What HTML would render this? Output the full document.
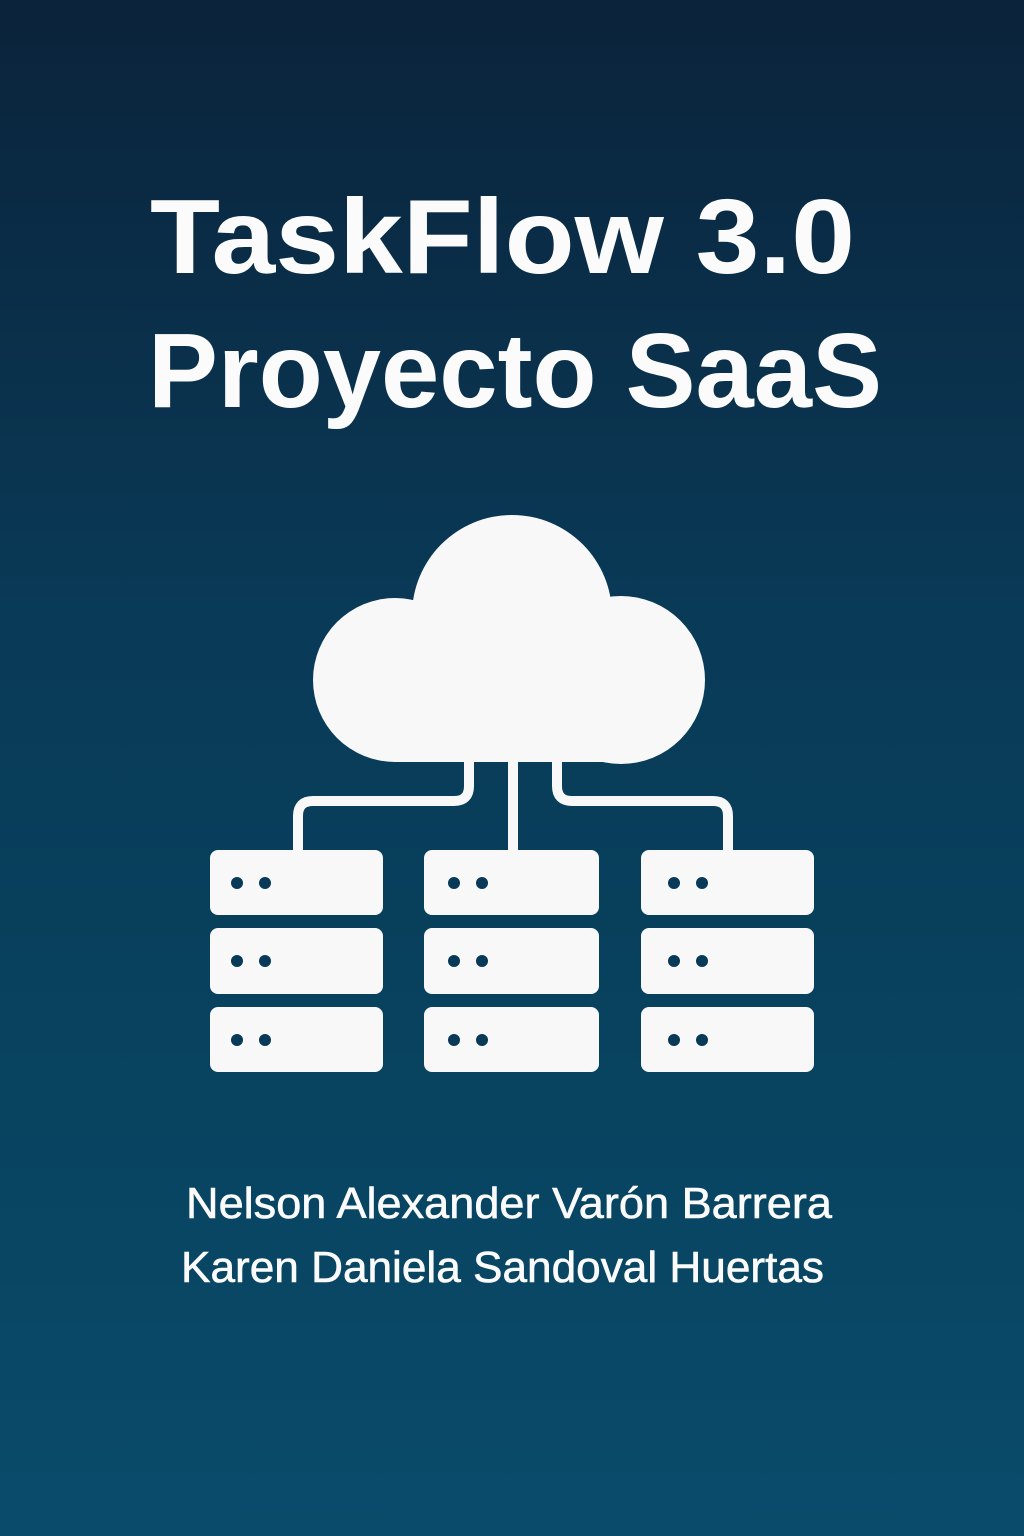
<!DOCTYPE html>
<html><head><meta charset="utf-8"><style>
html,body{margin:0;padding:0}
body{width:1024px;height:1536px;overflow:hidden;background:linear-gradient(180deg,#0b233b 0%,#093a57 40%,#08435f 70%,#0a4b6b 100%)}
svg{display:block}
</style></head><body>
<svg width="1024" height="1536" viewBox="0 0 1024 1536" xmlns="http://www.w3.org/2000/svg">
<g font-family="Liberation Sans, sans-serif" fill="#fbfbfb">
<text x="150" y="273" font-size="106" font-weight="bold" textLength="705" lengthAdjust="spacingAndGlyphs">TaskFlow 3.0</text>
<text x="148" y="407" font-size="106" font-weight="bold" textLength="734" lengthAdjust="spacingAndGlyphs">Proyecto SaaS</text>
<text x="186" y="1218" font-size="44" stroke="#fbfbfb" stroke-width="0.6" textLength="646" lengthAdjust="spacingAndGlyphs">Nelson Alexander Varón Barrera</text>
<text x="181" y="1282" font-size="44" stroke="#fbfbfb" stroke-width="0.6" textLength="643" lengthAdjust="spacingAndGlyphs">Karen Daniela Sandoval Huertas</text>
</g>
<g fill="#f8f8f8">
<circle cx="512" cy="615" r="100"/>
<circle cx="395" cy="680" r="82"/>
<circle cx="621" cy="680" r="84"/>
<rect x="395" y="600" width="226" height="162"/>
</g>
<g fill="none" stroke="#f8f8f8" stroke-width="10">
<path d="M469 760 V786 Q469 801 454 801 H313 Q298 801 298 816 V852"/>
<path d="M513 760 V852"/>
<path d="M557 760 V786 Q557 801 572 801 H713 Q728 801 728 816 V852"/>
</g>
<g fill="#f8f8f8">
<rect x="210" y="850" width="173" height="65" rx="8"/>
<rect x="210" y="928" width="173" height="66" rx="8"/>
<rect x="210" y="1007" width="173" height="65" rx="8"/>
<rect x="424" y="850" width="175" height="65" rx="8"/>
<rect x="424" y="928" width="175" height="66" rx="8"/>
<rect x="424" y="1007" width="175" height="65" rx="8"/>
<rect x="641" y="850" width="173" height="65" rx="8"/>
<rect x="641" y="928" width="173" height="66" rx="8"/>
<rect x="641" y="1007" width="173" height="65" rx="8"/>
</g>
<g fill="#083a57">
<circle cx="237" cy="883" r="6"/><circle cx="265" cy="883" r="6"/>
<circle cx="237" cy="961" r="6"/><circle cx="265" cy="961" r="6"/>
<circle cx="237" cy="1040" r="6"/><circle cx="265" cy="1040" r="6"/>
<circle cx="454" cy="883" r="6"/><circle cx="482" cy="883" r="6"/>
<circle cx="454" cy="961" r="6"/><circle cx="482" cy="961" r="6"/>
<circle cx="454" cy="1040" r="6"/><circle cx="482" cy="1040" r="6"/>
<circle cx="674" cy="883" r="6"/><circle cx="702" cy="883" r="6"/>
<circle cx="674" cy="961" r="6"/><circle cx="702" cy="961" r="6"/>
<circle cx="674" cy="1040" r="6"/><circle cx="702" cy="1040" r="6"/>
</g>
</svg>
</body></html>
